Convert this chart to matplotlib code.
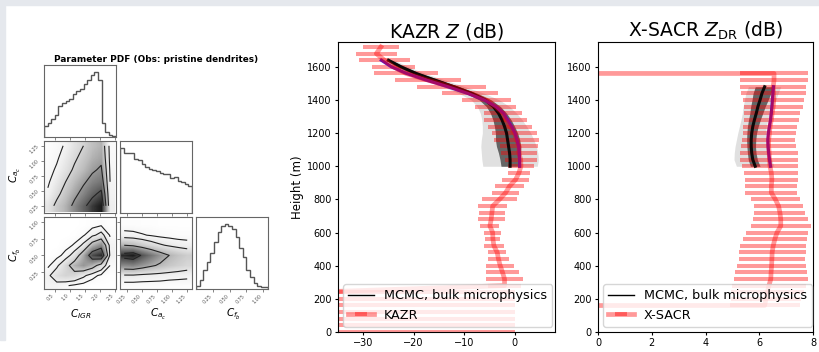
import numpy as np
import matplotlib.pyplot as plt
from matplotlib.patches import Rectangle

# ---------------- corner plot data ----------------
labels = [r"$C_{IGR}$", r"$C_{a_c}$", r"$C_{f_b}$"]
ranges = [(0.12, 2.55), (0.13, 1.33), (0.0, 1.07)]
ticks = [[0.5, 1.0, 1.5, 2.0, 2.5], [0.25, 0.5, 0.75, 1.0, 1.25], [0.25, 0.5, 0.75, 1.0]]

hist_igr = [0.17, 0.22, 0.28, 0.34, 0.47, 0.52, 0.55, 0.58, 0.65, 0.70,
            0.74, 0.81, 0.87, 0.95, 1.00, 0.87, 0.22, 0.08, 0.03, 0.01]
hist_ac = [1.00, 0.92, 0.92, 0.91, 0.82, 0.81, 0.75, 0.71, 0.67, 0.66,
           0.64, 0.61, 0.60, 0.59, 0.54, 0.55, 0.49, 0.47, 0.45, 0.42]
hist_fb = [0.04, 0.14, 0.29, 0.42, 0.55, 0.72, 0.87, 0.97, 1.00, 0.97,
           0.92, 0.80, 0.62, 0.49, 0.29, 0.19, 0.09, 0.05, 0.03, 0.03]

# 2D densities (rows = y from bottom, cols = x)
igr_x = [0.25, 0.55, 0.85, 1.15, 1.45, 1.75, 2.05, 2.35]
ac_y = [0.25, 0.45, 0.65, 0.85, 1.05, 1.25]
dens_igr_ac = [
    [0.20, 0.35, 0.45, 0.60, 0.75, 0.90, 1.00, 0.15],
    [0.12, 0.25, 0.38, 0.50, 0.62, 0.75, 0.85, 0.12],
    [0.08, 0.18, 0.30, 0.42, 0.52, 0.62, 0.68, 0.10],
    [0.05, 0.12, 0.22, 0.33, 0.42, 0.52, 0.58, 0.08],
    [0.03, 0.08, 0.17, 0.27, 0.36, 0.45, 0.50, 0.06],
    [0.02, 0.05, 0.12, 0.22, 0.30, 0.40, 0.45, 0.05],
]
fb_y = [0.05, 0.20, 0.35, 0.50, 0.65, 0.80, 0.95]
dens_igr_fb = [
    [0.10, 0.10, 0.06, 0.03, 0.01, 0.00, 0.00, 0.00],
    [0.12, 0.24, 0.30, 0.28, 0.18, 0.08, 0.03, 0.01],
    [0.03, 0.12, 0.28, 0.45, 0.55, 0.45, 0.25, 0.05],
    [0.00, 0.02, 0.08, 0.22, 0.48, 0.85, 0.95, 0.12],
    [0.00, 0.00, 0.02, 0.06, 0.18, 0.45, 0.60, 0.10],
    [0.00, 0.00, 0.00, 0.01, 0.04, 0.12, 0.20, 0.04],
    [0.00, 0.00, 0.00, 0.00, 0.01, 0.02, 0.04, 0.01],
]
ac_x = [0.20, 0.35, 0.50, 0.65, 0.80, 0.95, 1.10, 1.25]
dens_ac_fb = [
    [0.03, 0.03, 0.03, 0.03, 0.03, 0.02, 0.02, 0.02],
    [0.18, 0.18, 0.16, 0.15, 0.14, 0.13, 0.12, 0.11],
    [0.60, 0.62, 0.55, 0.48, 0.42, 0.36, 0.32, 0.28],
    [0.95, 1.00, 0.82, 0.68, 0.55, 0.45, 0.38, 0.33],
    [0.45, 0.42, 0.35, 0.28, 0.22, 0.18, 0.15, 0.13],
    [0.12, 0.11, 0.09, 0.07, 0.05, 0.04, 0.03, 0.03],
    [0.03, 0.03, 0.02, 0.02, 0.01, 0.01, 0.01, 0.01],
]

# ---------------- radar profiles ----------------
heights = [1720, 1680, 1640, 1600, 1560, 1520, 1480, 1440, 1400, 1360, 1320,
           1280, 1240, 1200, 1160, 1120, 1080, 1040, 1000, 960, 920, 880,
           840, 800, 760, 720, 680, 640, 600, 560, 520, 480, 440, 400, 360,
           320, 280, 240, 200, 160, 120, 80, 40, 0]
kazr_z = [-26.5, -27.4, -25.8, -24.0, -21.5, -17.2, -12.5, -8.8, -5.6, -3.8, -2.3,
          -1.8, -0.9, 0.0, 0.4, 0.9, 0.85, 1.2, 1.25, 0.85, 0.2, -1.0,
          -1.8, -3.0, -4.35, -4.5, -4.65, -4.9, -4.35, -4.3, -4.1, -3.45, -3.2, -2.85, -2.4,
          -2.0, -2.0, -40, -40, -40, -40, -40, -40, -40]
kazr_err = [3.6, 4.1, 5.0, 4.3, 6.3, 6.6, 6.8, 5.6, 4.8, 4.1, 3.7,
            4.2, 4.3, 4.5, 4.5, 3.8, 3.55, 3.15, 2.65, 2.25, 2.7, 2.9,
            2.7, 3.5, 2.9, 2.5, 2.65, 1.9, 1.65, 1.5, 1.9, 1.75, 2.15, 2.8, 3.3,
            3.6, 3.3, 40, 40, 40, 40, 40, 40, 40]
xsacr_zdr = [np.nan, np.nan, np.nan, -999, 6.55, 6.55, 6.52, 6.53, 6.54, 6.52, 6.48,
             6.45, 6.40, 6.38, 6.35, 6.35, 6.37, 6.38, 6.40, 6.45, 6.47, 6.45,
             6.45, 6.60, 6.72, 6.77, 6.80, 6.80, 6.66, 6.58, 6.52, 6.48, 6.47, 6.46, 6.44,
             6.43, 6.36, 6.30, 6.25, 6.20, -999, np.nan, np.nan, np.nan]
xsacr_err = [0, 0, 0, 0, 1.25, 1.25, 1.22, 1.2, 1.14, 1.1, 1.05,
             1.02, 1.01, 0.99, 0.98, 1.02, 1.07, 1.08, 1.05, 1.0, 0.99, 0.97,
             0.97, 0.92, 0.9, 0.95, 1.03, 1.12, 1.15, 1.2, 1.22, 1.25, 1.24, 1.28, 1.34,
             1.38, 1.38, 1.35, 1.3, 1.3, 0, 0, 0, 0]

# MCMC ensemble summary (core, inner spread, outer spread) and best fit
kazr_mcmc_h = [1640, 1600, 1560, 1520, 1480, 1440, 1400, 1360, 1320, 1280,
               1240, 1200, 1160, 1120, 1080, 1040, 1000]
kazr_mcmc = [-25.0, -22.5, -19.5, -15.8, -12.0, -8.5, -5.8, -4.2, -3.2, -2.5,
             -2.0, -1.6, -1.4, -1.2, -1.0, -0.9, -0.9]
kazr_inner = [0.6, 0.8, 0.9, 1.0, 1.0, 1.1, 1.2, 1.4, 1.6, 1.8,
              2.0, 2.2, 2.4, 2.4, 2.2, 2.0, 1.8]
kazr_outer = [1.2, 1.5, 1.8, 2.0, 2.2, 2.5, 2.8, 3.2, 3.6, 4.0,
              4.4, 4.8, 5.2, 5.5, 5.6, 5.6, 5.4]
kazr_best = [-26.4, -24.4, -21.4, -17.5, -13.2, -9.3, -6.0, -3.7, -2.2, -1.4,
             -0.6, 0.07, 0.45, 0.8, 0.9, 1.0, 1.0]

xsacr_mcmc_h = [1480, 1440, 1400, 1360, 1320, 1280, 1240, 1200, 1160, 1120, 1080, 1040, 1000]
xsacr_mcmc = [6.2, 6.1, 6.03, 5.95, 5.89, 5.82, 5.76, 5.72, 5.7, 5.7, 5.72, 5.76, 5.85]
xsacr_inner = [0.35, 0.33, 0.3, 0.27, 0.24, 0.22, 0.2, 0.18, 0.17, 0.16, 0.16, 0.17, 0.18]
xsacr_outer = [0.6, 0.6, 0.58, 0.55, 0.52, 0.5, 0.5, 0.52, 0.55, 0.6, 0.65, 0.7, 0.7]
xsacr_best = [6.53, 6.51, 6.49, 6.47, 6.45, 6.42, 6.38, 6.34, 6.32, 6.33, 6.35, 6.38, 6.42]

W, H = 819, 352
fig = plt.figure(figsize=(W / 100, H / 100), dpi=100)

# light frame of the original screenshot
fig.patches.append(Rectangle((0, 1 - 5 / H), 1, 5 / H, transform=fig.transFigure,
                             color='#e5e8ed', zorder=0))
fig.patches.append(Rectangle((0, 12 / H), 5 / W, 1, transform=fig.transFigure,
                             color='#e5e8ed', zorder=0))


def px_axes(x0, y0, x1, y1):
    return fig.add_axes([x0 / W, 1 - y1 / H, (x1 - x0) / W, (y1 - y0) / H])


cols = [(44, 116), (120, 192), (196, 268)]
rows = [(65, 137), (141, 213), (217, 289)]
hists = [hist_igr, hist_ac, hist_fb]
dens = {(1, 0): (igr_x, ac_y, dens_igr_ac, [0.1, 0.3, 0.55, 0.8]),
        (2, 0): (igr_x, fb_y, dens_igr_fb, [0.05, 0.15, 0.35, 0.7]),
        (2, 1): (ac_x, fb_y, dens_ac_fb, [0.08, 0.2, 0.45, 0.85])}

for i in range(3):
    for j in range(i + 1):
        ax = px_axes(cols[j][0], rows[i][0], cols[j][1], rows[i][1])
        for s in ax.spines.values():
            s.set_color('#666666')
            s.set_linewidth(0.8)
        ax.set_xlim(ranges[j])
        ax.set_xticks(ticks[j])
        if i == j:
            edges = np.linspace(ranges[i][0], ranges[i][1], len(hists[i]) + 1)
            ax.stairs(hists[i], edges, color='#555555', lw=1)
            ax.set_ylim(0, 1.1)
            ax.set_yticks([])
        else:
            xg, yg, zg, lv = dens[(i, j)]
            zg = np.array(zg)
            dx = xg[1] - xg[0]
            dy = yg[1] - yg[0]
            ax.imshow(zg, origin='lower', aspect='auto', cmap='Greys', vmin=0, vmax=1.1,
                      interpolation='bilinear',
                      extent=[xg[0] - dx / 2, xg[-1] + dx / 2, yg[0] - dy / 2, yg[-1] + dy / 2])
            ax.contour(xg, yg, zg, levels=lv, colors='#222222', linewidths=0.8)
            ax.set_ylim(ranges[i])
            ax.set_yticks(ticks[i])
        ax.tick_params(length=2, width=0.5, labelsize=3.5, colors='#555555', pad=1)
        if i == 2:
            for lab in ax.get_xticklabels():
                lab.set_rotation(45)
                lab.set_ha('right')
        else:
            ax.set_xticklabels([])
        if j == 0 and i > 0:
            for lab in ax.get_yticklabels():
                lab.set_rotation(45)
                lab.set_ha('right')
        else:
            ax.set_yticklabels([])

fig.text(156 / W, 1 - 60 / H, "Parameter PDF (Obs: pristine dendrites)", ha='center',
         va='center', fontsize=6.4, fontweight='bold')
fig.text(81 / W, 1 - 314 / H, labels[0], ha='center', va='center', fontsize=7.5)
fig.text(158 / W, 1 - 314 / H, labels[1], ha='center', va='center', fontsize=7.5)
fig.text(233 / W, 1 - 314 / H, labels[2], ha='center', va='center', fontsize=7.5)
fig.text(15 / W, 1 - 175 / H, labels[1], ha='center', va='center', fontsize=7.5, rotation=90)
fig.text(15 / W, 1 - 255 / H, labels[2], ha='center', va='center', fontsize=7.5, rotation=90)

# ---------------- KAZR and X-SACR panels ----------------
purple = '#6a0fb0'
panels = [
    (px_axes(338, 42, 555, 332), kazr_z, kazr_err, 'KAZR', (-35, 8), [-30, -20, -10, 0],
     kazr_mcmc_h, kazr_mcmc, kazr_inner, kazr_outer, kazr_best, 'KAZR $Z$ (dB)'),
    (px_axes(598, 42, 813, 332), xsacr_zdr, xsacr_err, 'X-SACR', (0, 8), [0, 2, 4, 6, 8],
     xsacr_mcmc_h, xsacr_mcmc, xsacr_inner, xsacr_outer, xsacr_best,
     r'X-SACR $Z_{\mathrm{DR}}$ (dB)'),
]

for ax, obs, err, name, xl, xt, mh, mc, mi, mo, best, title in panels:
    obs = np.array(obs)
    err = np.array(err)
    mc = np.array(mc)
    mi = np.array(mi)
    mo = np.array(mo)
    eb = ax.errorbar(obs, heights, xerr=err, color='red', alpha=0.4, lw=3.4,
                     elinewidth=2.9, label=name)
    ax.fill_betweenx(mh, mc - mo, mc + mo, color='black', alpha=0.12, lw=0)
    ax.fill_betweenx(mh, mc - mi, mc + mi, color='black', alpha=0.55, lw=0)
    ax.plot(mc, mh, color='black', lw=2.2, alpha=0.9)
    ax.plot(best, mh, color=purple, lw=2.3)
    hl, = ax.plot([], [], color='black', lw=1, label='MCMC, bulk microphysics')
    ax.set_xlim(xl)
    ax.set_xticks(xt)
    ax.set_ylim(0, 1750)
    ax.set_yticks(range(0, 1601, 200))
    ax.tick_params(labelsize=7, length=2.5, width=0.8, pad=2)
    ax.set_title(title, fontsize=13.5, pad=3)
    ax.legend(handles=[hl, eb], loc='lower left', fontsize=9.2, borderaxespad=0.4,
              handlelength=2.0)

panels[0][0].set_ylabel('Height (m)', fontsize=8.5, labelpad=2)

fig.savefig('out.png', dpi=100)
